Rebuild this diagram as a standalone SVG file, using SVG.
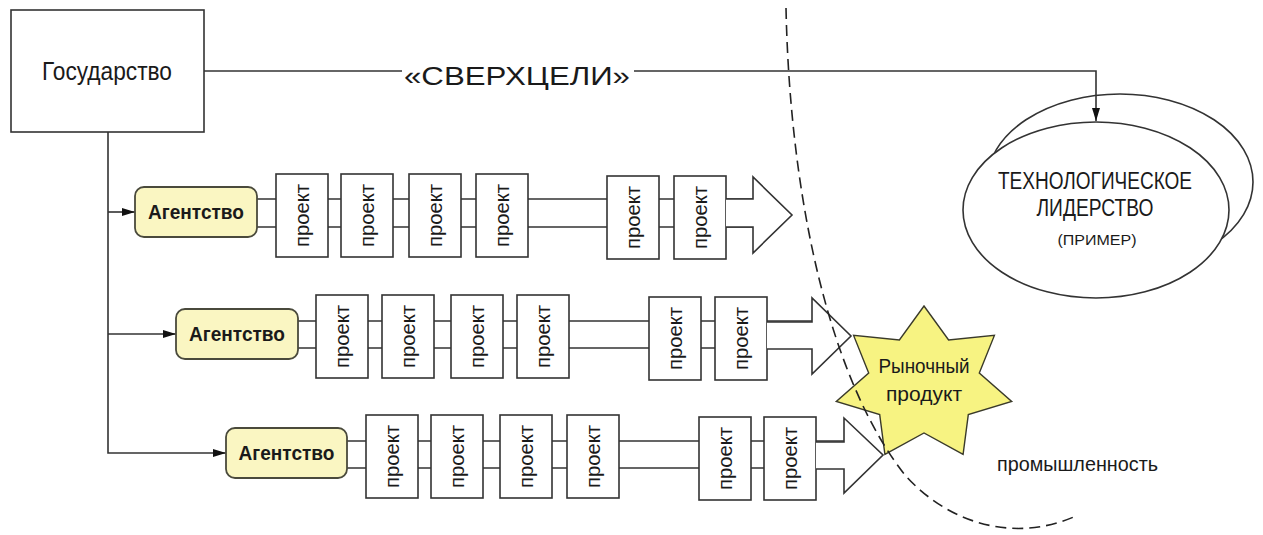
<svg xmlns="http://www.w3.org/2000/svg" width="1263" height="535" viewBox="0 0 1263 535">
<style>
.ln{fill:none;stroke:#333;stroke-width:1.6}
.box{fill:#fff;stroke:#333;stroke-width:1.6}
.ag{fill:#faf6c2;stroke:#4a4a3c;stroke-width:1.8}
.t{font-family:"Liberation Sans",Arial,sans-serif;fill:#1a1a1a}
.pr{font-family:"Liberation Sans",Arial,sans-serif;font-size:20px;fill:#1a1a1a;text-anchor:middle}
.agt{font-family:"Liberation Sans",Arial,sans-serif;font-size:20px;font-weight:bold;fill:#1a1a1a;text-anchor:middle}
.dash{fill:none;stroke:#222;stroke-width:1.6;stroke-dasharray:11 6}
</style>
<defs>
<marker id="ah" markerWidth="14" markerHeight="10" refX="13" refY="5" orient="auto" markerUnits="userSpaceOnUse">
<path d="M0,1 L13,5 L0,9 z" fill="#111"/>
</marker>
<symbol id="pr" overflow="visible">
<rect class="box" x="0" y="0" width="52" height="83"/>
<text class="pr" transform="translate(26,41.5) rotate(-90)" dy="7" textLength="63" lengthAdjust="spacingAndGlyphs">проект</text>
</symbol>
</defs>
<rect width="1263" height="535" fill="#fff"/>

<g id="goal">
<ellipse class="box" cx="1120" cy="182" rx="133" ry="88"/>
<ellipse class="box" cx="1096" cy="210" rx="133" ry="88"/>
<text class="t" x="1095" y="189" font-size="23" text-anchor="middle" textLength="194" lengthAdjust="spacingAndGlyphs">ТЕХНОЛОГИЧЕСКОЕ</text>
<text class="t" x="1095" y="216" font-size="23" text-anchor="middle" textLength="117" lengthAdjust="spacingAndGlyphs">ЛИДЕРСТВО</text>
<text class="t" x="1097" y="245" font-size="15" text-anchor="middle" textLength="79" lengthAdjust="spacingAndGlyphs">(ПРИМЕР)</text>
</g>

<g id="connectors">
<path class="ln" d="M204,71 H402"/>
<path class="ln" d="M634,71 H1096 V121" marker-end="url(#ah)"/>
<path class="ln" d="M108,132 V453 H226" marker-end="url(#ah)"/>
<path class="ln" d="M108,212 H135" marker-end="url(#ah)"/>
<path class="ln" d="M108,334 H176" marker-end="url(#ah)"/>
</g>

<g id="state">
<rect class="box" x="11" y="10" width="193" height="122"/>
<text class="t" x="107" y="80" font-size="25" text-anchor="middle" textLength="130" lengthAdjust="spacingAndGlyphs">Государство</text>
</g>

<g id="superlabel">
<text class="t" x="517" y="85" font-size="26" text-anchor="middle" textLength="226" lengthAdjust="spacingAndGlyphs">«СВЕРХЦЕЛИ»</text>
</g>

<g id="row1">
<path class="ln" d="M257,199 H753 M257,227 H753"/>
<rect class="ag" x="135" y="187" width="122" height="50" rx="9"/>
<text class="agt" x="196" y="219" textLength="96" lengthAdjust="spacingAndGlyphs">Агентство</text>
<use href="#pr" x="276" y="174"/>
<use href="#pr" x="341" y="174"/>
<use href="#pr" x="409" y="174"/>
<use href="#pr" x="476" y="174"/>
<use href="#pr" x="607" y="176"/>
<use href="#pr" x="674" y="176"/>
<path class="box" d="M726,199 H753 V177 L792,215 L753,253 V227 H726"/>
</g>

<g id="product">
<polygon points="924,306 948.6,339.9 994.4,335.4 979.3,373.1 1011.7,401.4 968.3,414.6 963.1,454.3 924,433 884.9,454.3 879.7,414.6 836.3,401.4 868.7,373.1 853.6,335.4 899.4,339.9" fill="#f7f382" stroke="#3a3a2a" stroke-width="1.4"/>
<text class="t" x="924" y="373" font-size="21" text-anchor="middle" textLength="91" lengthAdjust="spacingAndGlyphs">Рыночный</text>
<text class="t" x="924" y="401" font-size="21" text-anchor="middle" textLength="76" lengthAdjust="spacingAndGlyphs">продукт</text>
</g>

<g id="row2">
<path class="ln" d="M298,321 H812 M298,348 H812"/>
<rect class="ag" x="176" y="309" width="122" height="50" rx="9"/>
<text class="agt" x="237" y="341" textLength="96" lengthAdjust="spacingAndGlyphs">Агентство</text>
<use href="#pr" x="316" y="295"/>
<use href="#pr" x="382" y="295"/>
<use href="#pr" x="451" y="295"/>
<use href="#pr" x="517" y="295"/>
<use href="#pr" x="649" y="297"/>
<use href="#pr" x="715" y="297"/>
<path class="box" d="M767,322 H812 V298 L851,336 L812,374 V349 H767"/>
</g>

<g id="row3">
<path class="ln" d="M347,441 H844 M347,468 H844"/>
<rect class="ag" x="226" y="428" width="121" height="50" rx="9"/>
<text class="agt" x="286.5" y="460" textLength="96" lengthAdjust="spacingAndGlyphs">Агентство</text>
<use href="#pr" x="366" y="415"/>
<use href="#pr" x="431" y="415"/>
<use href="#pr" x="500" y="415"/>
<use href="#pr" x="567" y="415"/>
<use href="#pr" x="699" y="417"/>
<use href="#pr" x="764" y="417"/>
<path class="box" d="M816,442 H844 V418 L883,455 L844,493 V469 H816"/>
</g>

<g id="boundary">
<path class="dash" d="M786,8 C790,200 830,380 905,475 C945,520 1010,545 1076,516"/>
</g>

<g id="industry">
<text class="t" x="997" y="471" font-size="21" textLength="161" lengthAdjust="spacingAndGlyphs">промышленность</text>
</g>
</svg>
